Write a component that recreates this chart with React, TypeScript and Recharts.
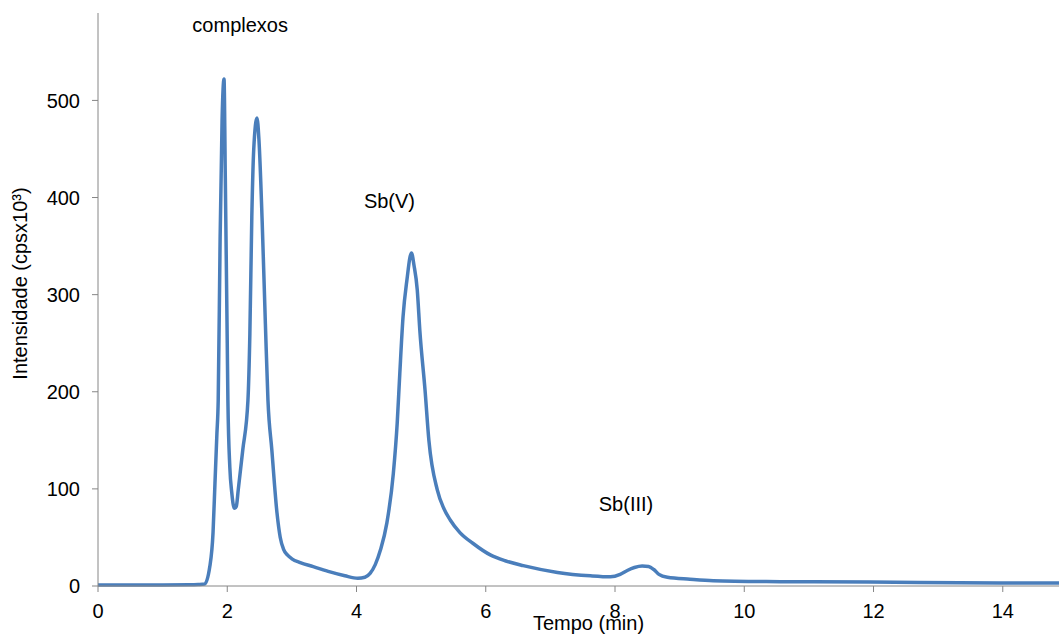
import { LineChart, Line, XAxis, YAxis, ReferenceDot } from "recharts";

const tempo = [
  0, 0.5, 1.0, 1.4, 1.55, 1.65, 1.73, 1.78, 1.81, 1.84, 1.86, 1.89, 1.92,
  1.95, 1.97, 2.0, 2.01, 2.04, 2.07, 2.11, 2.14, 2.17, 2.24, 2.32, 2.35,
  2.38, 2.41, 2.46, 2.49, 2.54, 2.59, 2.63, 2.69, 2.77, 2.82, 2.87, 2.93,
  3.0, 3.13, 3.33, 3.59, 3.82, 4.02, 4.13, 4.21, 4.29, 4.37, 4.47, 4.57,
  4.63, 4.67, 4.72, 4.78, 4.85, 4.89, 4.94, 4.98, 5.06, 5.12, 5.25, 5.35,
  5.45, 5.6, 5.8, 6.07, 6.3, 6.58, 7.11, 7.62, 7.93, 8.08, 8.19, 8.3, 8.42,
  8.52, 8.6, 8.68, 8.81, 9.16, 9.52, 10.56, 11.95, 13.96, 14.87,
];
const intensidade = [
  1, 1, 1, 1.2, 1.5, 2, 20, 55, 106, 157, 191, 360, 480,
  522, 420, 250, 191, 122, 96, 80, 82, 99, 140, 191, 260,
  380, 450, 482, 460, 376, 270, 191, 140, 75, 50, 38, 32,
  28, 24, 20, 14.5, 10.5, 8, 9, 13, 22, 37, 65, 116,
  168, 219, 277, 315, 343, 330, 305, 263, 202, 150, 99, 80,
  68, 55, 44, 32, 26, 21, 14, 10.5, 9.5, 12, 16, 19, 20.5,
  20, 17, 12, 9, 7, 5.5, 4.5, 4, 3, 3,
];

const xTicks = [0, 2, 4, 6, 8, 10, 12, 14];
const yTicks = [0, 100, 200, 300, 400, 500];

const picos = [
  { nome: "complexos", t: 2.2, y: 578 },
  { nome: "Sb(V)", t: 4.51, y: 397 },
  { nome: "Sb(III)", t: 8.17, y: 85 },
];

const data = tempo.map((t, i) => ({ t, v: intensidade[i] }));

const FONT = "'Liberation Sans', Arial, sans-serif";
const AXIS = "#868686";

export default function App() {
  return (
    <div style={{ position: "absolute", left: 0, top: 0, fontFamily: FONT }}>
      <LineChart
        width={1059}
        height={637}
        data={data}
        margin={{ top: 13, right: 0, bottom: 0, left: 0 }}
      >
        <XAxis
          dataKey="t"
          type="number"
          domain={[0, 14.87]}
          ticks={xTicks}
          allowDataOverflow
          height={51}
          stroke={AXIS}
          tickSize={6}
          tickMargin={12}
          tick={{ fill: "#000", fontSize: 20, fontFamily: FONT }}
          label={{
            value: "Tempo (min)",
            position: "insideBottom",
            offset: 0,
            dx: 10,
            dy: -7,
            fill: "#000",
            fontSize: 20,
            fontFamily: FONT,
          }}
        />
        <YAxis
          type="number"
          domain={[0, 590]}
          ticks={yTicks}
          width={98}
          stroke={AXIS}
          tickSize={6}
          tickMargin={12}
          tick={{ fill: "#000", fontSize: 20, fontFamily: FONT }}
          label={{
            value: "Intensidade (cpsx10³)",
            angle: -90,
            position: "center",
            dx: -29,
            dy: -16,
            fill: "#000",
            fontSize: 20,
            fontFamily: FONT,
          }}
        />
        <Line
          dataKey="v"
          type="monotone"
          stroke="#4a7ebb"
          strokeWidth={3.5}
          dot={false}
          isAnimationActive={false}
        />
        {picos.map((p) => (
          <ReferenceDot
            key={p.nome}
            x={p.t}
            y={p.y}
            r={0}
            stroke="none"
            fill="none"
            label={{
              value: p.nome,
              position: "center",
              fill: "#000",
              fontSize: 20,
              fontFamily: FONT,
            }}
          />
        ))}
      </LineChart>
    </div>
  );
}
